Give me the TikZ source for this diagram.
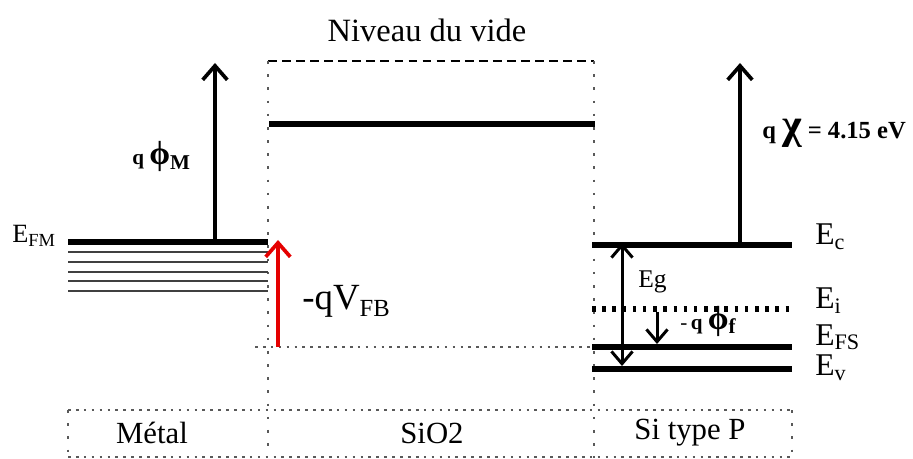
\documentclass[tikz,border=0pt]{standalone}
\usepackage{fontspec}
\setmainfont{Liberation Serif}
\usetikzlibrary{arrows.meta}

\tikzset{
	niveau/.style={line width=3.6pt},
	niveaufin/.style={line width=1pt, draw=black!75},
	pointille/.style={draw=black!65, line width=0.7pt, dash pattern=on 1.5pt off 3pt},
	fleche/.style={line width=2.1pt, -{Straight Barb[length=8pt,width=14pt,line width=2.1pt]}},
	etiquette/.style={inner sep=0pt, anchor=base west},
}

\begin{document}
\begin{tikzpicture}[x=0.02cm, y=-0.02cm]
	\useasboundingbox (0,0) rectangle (913,459);
	% repères des niveaux
	\coordinate (vg) at (268,61);  \coordinate (vd) at (594,61);
	\coordinate (og) at (269,124); \coordinate (od) at (595,124);
	\coordinate (mg) at (68,242);  \coordinate (md) at (268,242);
	\coordinate (cg) at (592,245); \coordinate (cd) at (792,245);
	\coordinate (ig) at (592,309); \coordinate (id) at (792,309);
	\coordinate (fg) at (592,347); \coordinate (fd) at (792,347);
	\coordinate (evg) at (592,369); \coordinate (evd) at (792,369);
	\coordinate (bandeg) at (255,347);
	% niveau du vide et isolant
	\draw[line width=1.5pt, dash pattern=on 5pt off 3pt] (vg) -- (vd);
	\draw[niveau] (og) -- (od);
	\draw[pointille, line width=0.9pt, dash pattern=on 1.5pt off 6pt] (vg) -- (268,448);
	\draw[pointille, line width=0.9pt, dash pattern=on 1.5pt off 6pt] (vd) -- (594,458);
	\draw[pointille] (bandeg) -- (fg);
	% métal
	\draw[niveau] (mg) -- (md);
	\foreach \y in {252,262,272,281,291} {
		\draw[niveaufin] (68,\y) -- (268,\y);
	}
	\coordinate (pm0) at (215,243); \coordinate (pm1) at (215,63);
	\draw[fleche] (pm0) -- (pm1);
	\coordinate (vfb0) at (278,347); \coordinate (vfb1) at (278,240);
	\draw[fleche, red!90!black, line width=2.4pt] (vfb0) -- (vfb1);
	% semi-conducteur
	\draw[niveau, line width=3.4pt] (cg) -- (cd);
	\draw[line width=3pt, dash pattern=on 2pt off 3.8pt] (ig) -- (id);
	\draw[niveau, line width=3.4pt] (fg) -- (fd);
	\draw[niveau, line width=3.4pt] (evg) -- (evd);
	\coordinate (chi0) at (740,246); \coordinate (chi1) at (740,63);
	\draw[fleche] (chi0) -- (chi1);
	\coordinate (eg0) at (622,243); \coordinate (eg1) at (622,366);
	\draw[line width=1.7pt, {Straight Barb[length=7pt,width=12pt,line width=1.7pt]}-{Straight Barb[length=7pt,width=12pt,line width=1.7pt]}] (eg0) -- (eg1);
	\coordinate (pf0) at (657,312); \coordinate (pf1) at (657,344);
	\draw[line width=1.7pt, -{Straight Barb[length=7pt,width=12pt,line width=1.7pt]}] (pf0) -- (pf1);
	% cadres du bas
	\draw[pointille] (68,410) -- (792,410);
	\draw[pointille] (68,457) -- (792,457);
	\draw[pointille, dash pattern=on 1.5pt off 6pt] (68,410) -- (68,457);
	\draw[pointille, dash pattern=on 1.5pt off 6pt] (792,410) -- (792,457);
	% textes
	\node[font=\fontsize{18.5}{21}\selectfont] (vide) at (427,30) {Niveau du vide};
	\node[font=\fontsize{17.5}{20}\selectfont] (metal) at (152,433) {Métal};
	\node[font=\fontsize{17.5}{20}\selectfont] (oxyde) at (432,433) {SiO2};
	\node[font=\fontsize{17.5}{20}\selectfont] (sip) at (690,433) {Si type P};
	\node[etiquette, font=\fontsize{15}{17}\selectfont] (efm) at (12,243) {E\textsubscript{FM}};
	\node[etiquette, font=\bfseries\fontsize{12}{14}\selectfont] (phim) at (132,165) {q {\fontsize{19}{20}\selectfont ϕ}\raisebox{-0.5ex}{M}};
	\node[etiquette, font=\fontsize{21}{24}\selectfont] (vfb) at (302,310) {-qV\raisebox{-0.4ex}{\fontsize{14}{16}\selectfont FB}};
	\node[etiquette, font=\bfseries\fontsize{14}{16}\selectfont] (chi) at (762,139) {q {\fontsize{24}{26}\selectfont χ} = 4.15 eV};
	\node[etiquette, font=\fontsize{14.5}{16}\selectfont] (egap) at (638,288) {Eg};
	\node[etiquette, font=\bfseries\fontsize{12}{14}\selectfont] (phif) at (680,330) {\mdseries -\,\bfseries q {\fontsize{19}{20}\selectfont ϕ}\raisebox{-0.4ex}{f}};
	\node[etiquette, font=\fontsize{18}{20}\selectfont] (ec) at (815,245) {E\textsubscript{c}};
	\node[etiquette, font=\fontsize{18}{20}\selectfont] (ei) at (815,309) {E\textsubscript{i}};
	\node[etiquette, font=\fontsize{18}{20}\selectfont] (efs) at (815,345) {E\textsubscript{FS}};
	\node[etiquette, font=\fontsize{18}{20}\selectfont] (ev) at (815,376) {E\textsubscript{v}};
\end{tikzpicture}
\end{document}
